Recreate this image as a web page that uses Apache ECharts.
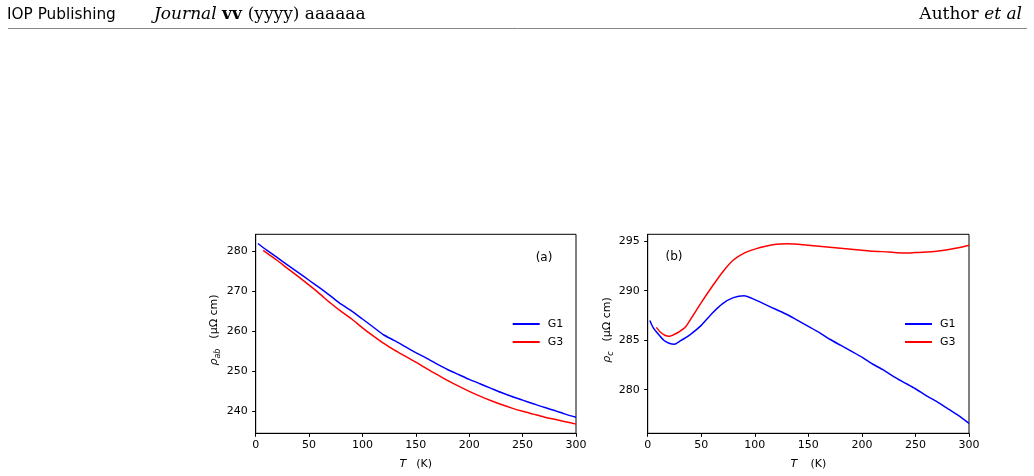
<!DOCTYPE html>
<html>
<head>
<meta charset="utf-8">
<script src="https://cdn.jsdelivr.net/npm/echarts@6/dist/echarts.min.js"></script>
<style>
  html, body { margin: 0; padding: 0; background: #fff; }
  #chart { width: 1034px; height: 476px; }
</style>
</head>
<body>
<div id="chart"></div>
<script>
// (a) rho_ab
var tA_G1 = [2, 10, 20, 30, 40, 50, 60, 70, 80, 90, 100, 110, 120, 130, 140, 150, 160, 170, 180, 190, 200, 210, 220, 230, 240, 250, 260, 270, 280, 290, 300];
var rhoAB_G1 = [281.9, 280.3, 278.4, 276.5, 274.6, 272.7, 270.8, 268.8, 266.7, 265.0, 263.0, 261.0, 259.0, 257.6, 256.1, 254.6, 253.2, 251.7, 250.3, 249.1, 247.9, 246.8, 245.7, 244.6, 243.6, 242.7, 241.8, 240.9, 240.1, 239.2, 238.4];
var tA_G3 = [7, 10, 20, 30, 40, 50, 60, 70, 80, 90, 100, 110, 120, 130, 140, 150, 160, 170, 180, 190, 200, 210, 220, 230, 240, 250, 260, 270, 280, 290, 300];
var rhoAB_G3 = [280.2, 279.6, 277.7, 275.6, 273.6, 271.5, 269.3, 267.0, 264.9, 263.0, 260.8, 258.8, 256.9, 255.2, 253.7, 252.2, 250.6, 249.1, 247.6, 246.2, 244.9, 243.7, 242.6, 241.6, 240.7, 239.9, 239.2, 238.5, 237.9, 237.3, 236.7];

// (b) rho_c
var tC_G1 = [2, 5, 10, 15, 20, 25, 30, 40, 50, 60, 70, 80, 90, 100, 110, 120, 130, 140, 150, 160, 170, 180, 190, 200, 210, 220, 230, 240, 250, 260, 270, 280, 290, 300];
var rhoC_G1 = [287.0, 286.3, 285.6, 285.0, 284.7, 284.6, 284.9, 285.6, 286.5, 287.7, 288.7, 289.3, 289.5, 289.1, 288.6, 288.1, 287.6, 287.0, 286.4, 285.8, 285.1, 284.5, 283.9, 283.3, 282.6, 282.0, 281.3, 280.7, 280.1, 279.4, 278.8, 278.1, 277.4, 276.6];
var tC_G3 = [8, 12, 16, 20, 25, 30, 35, 40, 50, 60, 70, 80, 90, 100, 110, 120, 130, 140, 150, 160, 170, 180, 190, 200, 210, 220, 230, 240, 250, 260, 270, 280, 290, 300];
var rhoC_G3 = [286.3, 285.8, 285.5, 285.4, 285.6, 285.9, 286.3, 287.1, 288.8, 290.4, 291.9, 293.1, 293.8, 294.2, 294.5, 294.7, 294.75, 294.7, 294.6, 294.5, 294.4, 294.3, 294.2, 294.1, 294.0, 293.95, 293.85, 293.8, 293.85, 293.9, 294.0, 294.15, 294.35, 294.6];

var yTicksA = [240, 250, 260, 270, 280];
var yTicksC = [280, 285, 290, 295];

function pairs(xs, ys) {
  return xs.map(function (x, i) { return [x, ys[i]]; });
}

var SANS = "'DejaVu Sans', sans-serif";
var SERIF = "'DejaVu Serif', serif";

function xAxisCfg(idx) {
  return {
    type: 'value', gridIndex: idx, min: 0, max: 300, interval: 50,
    splitLine: { show: false },
    axisLine: { show: true, onZero: false, lineStyle: { color: '#000', width: 1 } },
    axisTick: { show: true, length: 3.5, lineStyle: { color: '#000' } },
    axisLabel: { color: '#000', fontSize: 11, fontFamily: SANS, margin: 6 },
    name: '{i|T}' + (idx === 0 ? '   ' : '    ') + '{n|(K)}',
    nameLocation: 'middle', nameGap: 25,
    nameTextStyle: {
      rich: {
        i: { fontStyle: 'italic', fontSize: 11, fontFamily: SANS, color: '#000' },
        n: { fontSize: 11, fontFamily: SANS, color: '#000' }
      }
    }
  };
}

function yAxisCfg(idx, min, max, ticks) {
  return {
    type: 'value', gridIndex: idx, min: min, max: max,
    splitLine: { show: false },
    axisLine: { show: true, lineStyle: { color: '#000', width: 1 } },
    axisTick: { show: true, length: 3.5, lineStyle: { color: '#000' }, customValues: ticks },
    axisLabel: { color: '#000', fontSize: 11, fontFamily: SANS, margin: 8, customValues: ticks }
  };
}

function lineSeries(name, color, xi, data) {
  return {
    name: name, type: 'line', xAxisIndex: xi, yAxisIndex: xi,
    data: data, showSymbol: false, symbol: 'none', smooth: 0.2,
    lineStyle: { color: color, width: 1.5 },
    itemStyle: { color: color },
    animation: false
  };
}

function legendCfg(left) {
  return {
    left: left, top: 317, orient: 'vertical', padding: 0,
    itemWidth: 27, itemHeight: 2, itemGap: 4, icon: 'rect',
    selectedMode: false,
    textStyle: { color: '#000', fontSize: 11, fontFamily: SANS, lineHeight: 14, padding: [0, 0, 0, 3] },
    data: ['G1', 'G3']
  };
}

function yLabel(x, y, sub) {
  return {
    type: 'text', x: x, y: y, rotation: Math.PI / 2,
    style: {
      text: '{r|ρ}{s|' + sub + '}   {n|(μΩ cm)}',
      align: 'center', verticalAlign: 'middle',
      rich: {
        r: { fontSize: 11, fontStyle: 'italic', fontFamily: SANS, fill: '#000', lineHeight: 16 },
        s: { fontSize: 8, fontStyle: 'italic', fontFamily: SANS, fill: '#000', lineHeight: 16, verticalAlign: 'bottom', padding: [4, 0, 0, 0] },
        n: { fontSize: 11, fontFamily: SANS, fill: '#000', lineHeight: 16 }
      }
    }
  };
}

var chart = echarts.init(document.getElementById('chart'));
chart.setOption({
  backgroundColor: '#fff',
  animation: false,
  grid: [
    { left: 255.7, right: 458, top: 234.3, bottom: 42.7, show: true, borderColor: '#000', borderWidth: 1 },
    { left: 647.7, right: 65, top: 234.3, bottom: 42.7, show: true, borderColor: '#000', borderWidth: 1 }
  ],
  xAxis: [xAxisCfg(0), xAxisCfg(1)],
  yAxis: [yAxisCfg(0, 234.4, 284.2, yTicksA), yAxisCfg(1, 275.6, 295.7, yTicksC)],
  legend: [legendCfg(512.7), legendCfg(905)],
  series: [
    lineSeries('G1', '#0000ff', 0, pairs(tA_G1, rhoAB_G1)),
    lineSeries('G3', '#ff0000', 0, pairs(tA_G3, rhoAB_G3)),
    lineSeries('G1', '#0000ff', 1, pairs(tC_G1, rhoC_G1)),
    lineSeries('G3', '#ff0000', 1, pairs(tC_G3, rhoC_G3))
  ],
  graphic: [
    // page header
    { type: 'text', x: 7, y: 15, style: { text: 'IOP Publishing', font: '15.3px ' + SANS, fill: '#000', verticalAlign: 'middle' } },
    {
      type: 'text', x: 154, y: 14.5,
      style: {
        text: '{i|Journal }{b|vv }{n|(yyyy) aaaaaa}', verticalAlign: 'middle',
        rich: {
          i: { fontSize: 17, fontFamily: SERIF, fontStyle: 'italic', fill: '#000' },
          b: { fontSize: 17, fontFamily: SERIF, fontWeight: 'bold', fill: '#000' },
          n: { fontSize: 17, fontFamily: SERIF, fill: '#000' }
        }
      }
    },
    {
      type: 'text', x: 1022, y: 14.5,
      style: {
        text: '{n|Author }{i|et al}', align: 'right', verticalAlign: 'middle',
        rich: {
          i: { fontSize: 17, fontFamily: SERIF, fontStyle: 'italic', fill: '#000' },
          n: { fontSize: 17, fontFamily: SERIF, fill: '#000' }
        }
      }
    },
    { type: 'line', shape: { x1: 8, y1: 28.5, x2: 1027, y2: 28.5 }, style: { stroke: '#888', lineWidth: 1 } },
    // panel tags
    { type: 'text', x: 544, y: 258, style: { text: '(a)', font: '12px ' + SANS, fill: '#000', align: 'center', verticalAlign: 'middle' } },
    { type: 'text', x: 674, y: 257, style: { text: '(b)', font: '12px ' + SANS, fill: '#000', align: 'center', verticalAlign: 'middle' } },
    // y labels
    yLabel(214, 330, 'ab'),
    yLabel(607, 330, 'c')
  ]
});
</script>
</body>
</html>
